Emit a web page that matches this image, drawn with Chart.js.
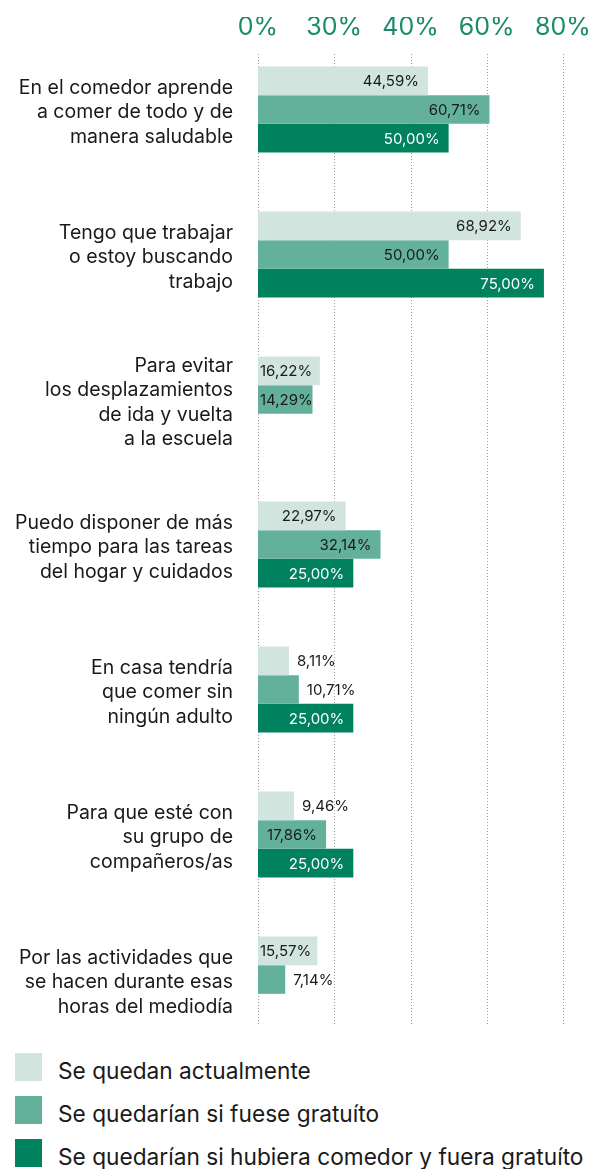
<!DOCTYPE html>
<html lang="es">
<head>
<meta charset="utf-8">
<title>Comedor escolar</title>
<script src="https://cdn.jsdelivr.net/npm/chart.js@4.4.1/dist/chart.umd.min.js"></script>
<style>
  html, body { margin: 0; padding: 0; background: #fff; }
  body { width: 592px; height: 1169px; overflow: hidden; font-family: Inter, sans-serif; color: #1a1a1a; }
  #wrap { position: relative; width: 592px; height: 1052px; }
  #legend { position: absolute; left: 15px; top: 1053px; }
  .item { display: flex; align-items: center; height: 28px; margin-bottom: 15px; }
  .box { width: 27px; height: 28px; margin-right: 16px; flex: none; }
  .txt { font-size: 22.7px; white-space: nowrap; position: relative; top: 3px; }
</style>
</head>
<body>
<div id="wrap"><canvas id="chart" width="592" height="1052"></canvas></div>
<div id="legend"></div>
<script>
const categories = [
  ['En el comedor aprende', 'a comer de todo y de', 'manera saludable'],
  ['Tengo que trabajar', 'o estoy buscando', 'trabajo'],
  ['Para evitar', 'los desplazamientos', 'de ida y vuelta', 'a la escuela'],
  ['Puedo disponer de más', 'tiempo para las tareas', 'del hogar y cuidados'],
  ['En casa tendría', 'que comer sin', 'ningún adulto'],
  ['Para que esté con', 'su grupo de', 'compañeros/as'],
  ['Por las actividades que', 'se hacen durante esas', 'horas del mediodía']
]
const seriesNames = [
  'Se quedan actualmente',
  'Se quedarían si fuese gratuíto',
  'Se quedarían si hubiera comedor y fuera gratuíto'
]
const quedanActual = [44.59, 68.92, 16.22, 22.97, 8.11, 9.46, 15.57]
const siGratuito = [60.71, 50.00, 14.29, 32.14, 10.71, 17.86, 7.14]
const siComedorGratuito = [50.00, 75.00, null, 25.00, 25.00, 25.00, null]
const tickLabels = ['0%', '30%', '40%', '60%', '80%']

const colors = ['#d1e4dd', '#63b19a', '#00825f']
const labelColors = ['#1a1a1a', '#1a1a1a', '#ffffff']
const fmt = v => v.toFixed(2).replace('.', ',') + '%'

// dotted vertical grid, a bit shorter than the plot area
const dottedGrid = {
  id: 'dottedGrid',
  beforeDatasetsDraw(chart) {
    const { ctx, chartArea, scales } = chart
    ctx.save()
    ctx.strokeStyle = '#a0a0a0'
    ctx.lineWidth = 1
    ctx.setLineDash([1, 2])
    scales.x.ticks.forEach(t => {
      const x = Math.round(scales.x.getPixelForValue(t.value)) + 0.5
      ctx.beginPath()
      ctx.moveTo(x, chartArea.top + 17)
      ctx.lineTo(x, chartArea.bottom - 26)
      ctx.stroke()
    })
    ctx.restore()
  }
}

// value labels: inside the bar end when they fit, else just after it
const barLabels = {
  id: 'barLabels',
  afterDatasetsDraw(chart) {
    const { ctx } = chart
    ctx.save()
    ctx.font = '15px Inter'
    ctx.textBaseline = 'middle'
    ctx.textAlign = 'left'
    chart.data.datasets.forEach((ds, i) => {
      chart.getDatasetMeta(i).data.forEach((bar, j) => {
        const v = ds.data[j]
        if (v == null) return
        const text = fmt(v)
        const w = ctx.measureText(text).width
        const barW = bar.x - bar.base
        if (barW >= w) {
          ctx.fillStyle = labelColors[i]
          ctx.fillText(text, Math.max(bar.base + 2, bar.x - 9 - w), bar.y + 1)
        } else {
          ctx.fillStyle = '#1a1a1a'
          ctx.fillText(text, bar.x + 8, bar.y + 1)
        }
      })
    })
    ctx.restore()
  }
}

const series = [quedanActual, siGratuito, siComedorGratuito]

new Chart(document.getElementById('chart'), {
  type: 'bar',
  data: {
    labels: categories,
    datasets: series.map((d, i) => ({
      label: seriesNames[i],
      data: d,
      backgroundColor: colors[i],
      borderWidth: 0,
      categoryPercentage: 0.593,
      barPercentage: 1
    }))
  },
  options: {
    indexAxis: 'y',
    responsive: false,
    animation: false,
    devicePixelRatio: 1,
    layout: { padding: { top: 17, right: 29, bottom: 0, left: 0 } },
    plugins: {
      legend: { display: false },
      tooltip: { enabled: false }
    },
    scales: {
      x: {
        position: 'top',
        min: 0,
        max: 80,
        grid: { display: false, drawTicks: false },
        border: { display: false },
        ticks: {
          stepSize: 20,
          padding: -5,
          color: '#1b8c6b',
          font: { family: 'Inter', size: 25 },
          callback: (v, i) => tickLabels[i]
        }
      },
      y: {
        grid: { display: false, drawTicks: false },
        border: { display: false },
        afterFit: s => {
          s.width = 258
          s.paddingTop = 0
          s.paddingBottom = 0
        },
        ticks: {
          padding: 25,
          labelOffset: 3,
          color: '#1a1a1a',
          font: { family: 'Inter', size: 19.5, lineHeight: 1.25 }
        }
      }
    }
  },
  plugins: [dottedGrid, barLabels]
})

const legend = document.getElementById('legend')
seriesNames.forEach((name, i) => {
  const item = document.createElement('div')
  item.className = 'item'
  item.innerHTML = '<span class="box" style="background:' + colors[i] + '"></span><span class="txt">' + name + '</span>'
  legend.appendChild(item)
})
</script>
</body>
</html>
